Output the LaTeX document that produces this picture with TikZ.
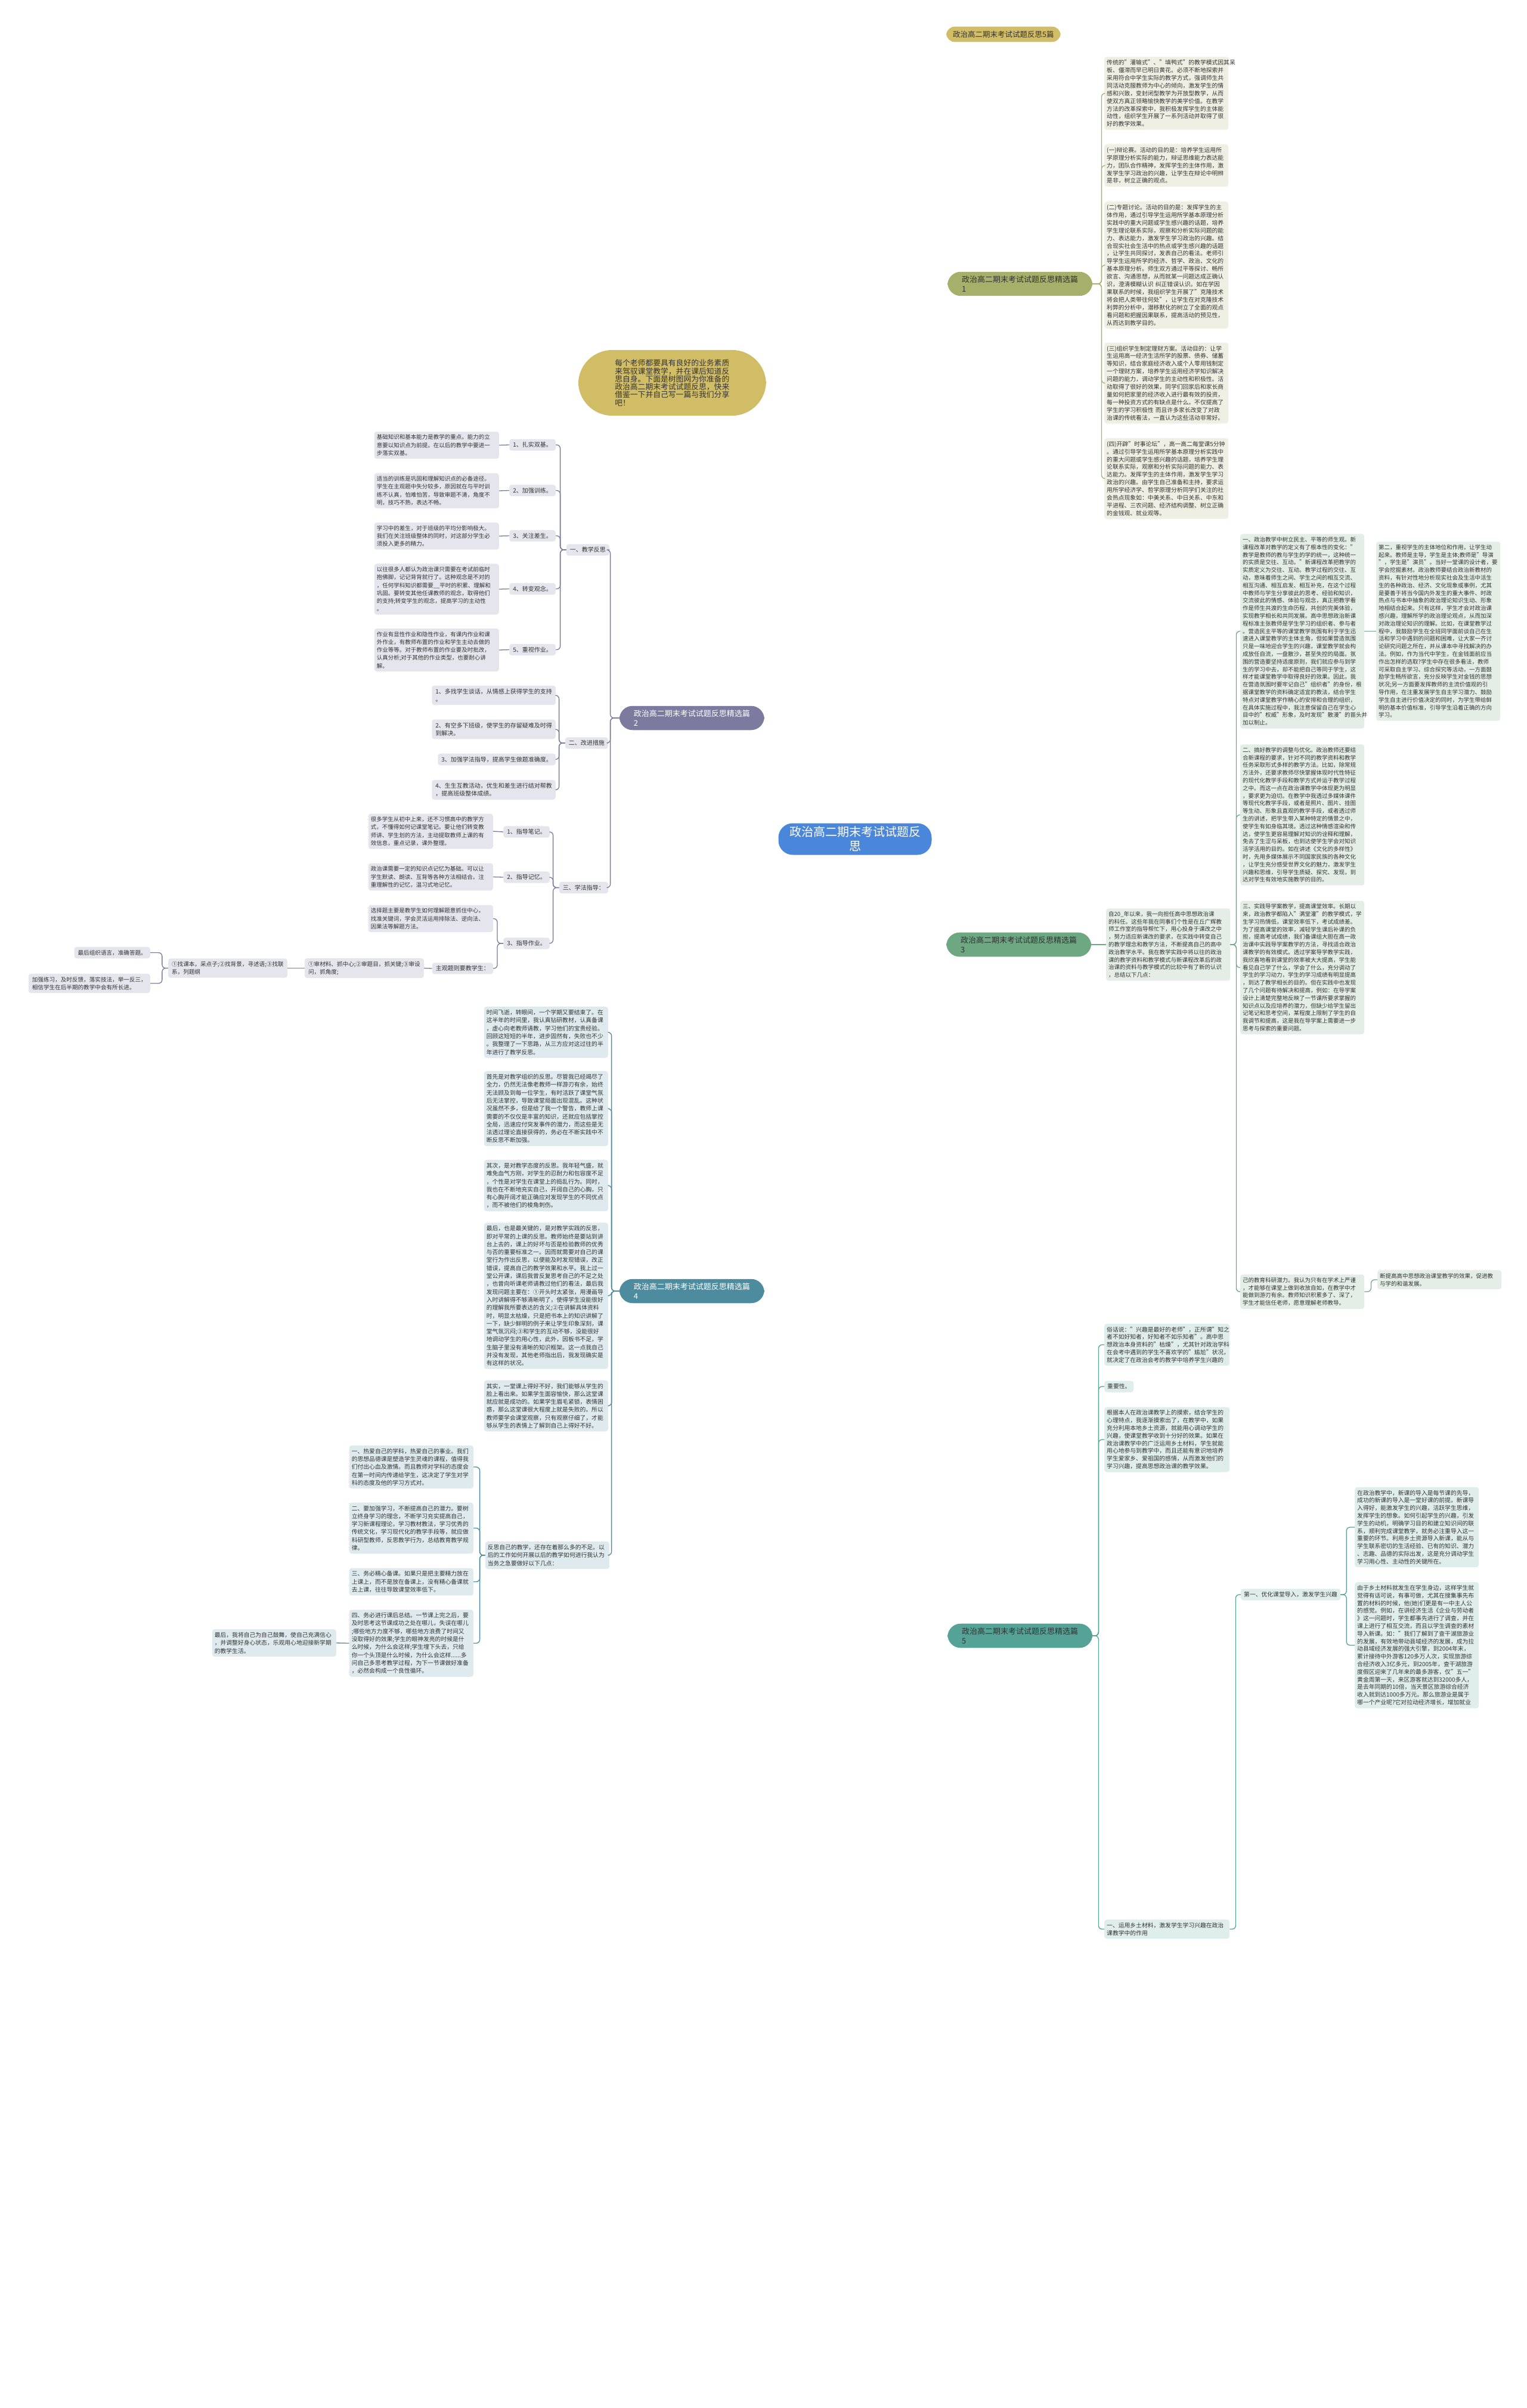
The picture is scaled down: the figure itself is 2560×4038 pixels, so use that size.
\documentclass[tikz,border=0pt]{standalone}
\usepackage{fontspec}
\setmainfont{Noto Sans CJK SC}
\usetikzlibrary{backgrounds}
\definecolor{txt}{HTML}{333333}
\definecolor{cBlue}{HTML}{4A86D9}
\definecolor{cGold}{HTML}{D2BD67}
\definecolor{cOlive}{HTML}{A7B06A}
\definecolor{bgOlive}{HTML}{EFEFE4}
\definecolor{cPurp}{HTML}{7A7B9E}
\definecolor{bgPurp}{HTML}{E5E5ED}
\definecolor{cGreen}{HTML}{6DA882}
\definecolor{bgGreen}{HTML}{E4EEE7}
\definecolor{cTealB}{HTML}{4D8C9E}
\definecolor{bgTealB}{HTML}{DEEAEE}
\definecolor{cTeal}{HTML}{54A396}
\definecolor{bgTeal}{HTML}{E0EEEB}
\tikzset{
  box/.style={rounded corners=4pt, inner xsep=4pt, inner ysep=5pt, align=left, text=txt},
  tA/.style={box, fill=bgOlive, font=\fontsize{9.8}{12.9}\selectfont, text width=200pt},
  tB/.style={box, fill=bgPurp, font=\fontsize{9.5}{13.3}\selectfont, text width=201pt},
  sB/.style={box, fill=bgPurp, inner xsep=6pt, inner ysep=5pt, font=\fontsize{10}{13.3}\selectfont},
  tC/.style={box, fill=bgGreen, font=\fontsize{9.5}{12.8}\selectfont, text width=200pt},
  tD/.style={box, fill=bgTealB, font=\fontsize{9.8}{13.3}\selectfont, text width=200pt},
  tE/.style={box, fill=bgTeal, font=\fontsize{9.8}{12.8}\selectfont, text width=202pt},
  sE/.style={box, fill=bgTeal, inner xsep=5pt, font=\fontsize{9.8}{12.8}\selectfont},
  br/.style={rounded corners=22pt, inner xsep=24pt, inner ysep=7pt, align=left, font=\fontsize{13}{15.5}\selectfont},
  lA/.style={draw=cOlive, line width=1.3pt, rounded corners=6pt},
  lB/.style={draw=cPurp, line width=1.3pt, rounded corners=6pt},
  lC/.style={draw=cGreen, line width=1.3pt, rounded corners=6pt},
  lD/.style={draw=cTealB, line width=1.3pt, rounded corners=6pt},
  lE/.style={draw=cTeal, line width=1.3pt, rounded corners=6pt}
}
\begin{document}
\begin{tikzpicture}[x=1pt,y=-1pt]
\useasboundingbox (0,0) rectangle (2560,4038);
\fill[white] (0,0) rectangle (2560,4038);

% ---------- centre and main branches ----------
\node[fill=cBlue, text=white, rounded corners=24pt, minimum width=257pt, minimum height=53pt, align=center, font=\fontsize{20}{24}\selectfont, inner sep=2pt] (c) at (1434,1407) {政治高二期末考试试题反\\思};
\node[fill=cGold, text=txt, rounded corners=14pt, inner xsep=11pt, inner ysep=7pt, font=\fontsize{12.5}{14}\selectfont, anchor=west] (top) at (1587,57.5) {政治高二期末考试试题反思5篇};
\node[br, fill=cOlive, text=txt, anchor=west] (b1) at (1589,476) {政治高二期末考试试题反思精选篇\\1};
\node[fill=cGold, text=txt, rounded corners=57pt, align=left, inner ysep=16pt, inner xsep=10pt, minimum width=315pt, font=\fontsize{12.8}{13.3}\selectfont, anchor=east] (bub) at (1285,642) {每个老师都要具有良好的业务素质\\来驾驭课堂教学，并在课后知道反\\思自身。下面是树图网为你准备的\\政治高二期末考试试题反思，快来\\借鉴一下并自己写一篇与我们分享\\吧！};
\node[br, fill=cPurp, text=white, anchor=east] (b2) at (1282,1204) {政治高二期末考试试题反思精选篇\\2};
\node[br, fill=cGreen, text=txt, anchor=west] (b3) at (1587,1584) {政治高二期末考试试题反思精选篇\\3};
\node[br, fill=cTealB, text=white, anchor=east] (b4) at (1282,2165) {政治高二期末考试试题反思精选篇\\4};
\node[br, fill=cTeal, text=txt, anchor=west] (b5) at (1589,2743) {政治高二期末考试试题反思精选篇\\5};

\begin{pgfonlayer}{background}
\draw[cGold, line width=1.6pt] (1434,1407) .. controls (1488,394) and (1518,57.5) .. (top.west);
\draw[cOlive, line width=1.6pt] (1434,1407) .. controls (1488,709) and (1519,476) .. (b1.west);
\draw[cGreen, line width=1.6pt] (1434,1407) .. controls (1487,1540) and (1518,1584) .. (b3.west);
\draw[cTeal, line width=1.6pt] (1434,1407) .. controls (1488,2409) and (1519,2743) .. (b5.west);
\draw[cGold, line width=1.6pt] (1434,1407) .. controls (1382,833) and (1352,642) .. (bub.east);
\draw[cPurp, line width=1.6pt] (1434,1407) .. controls (1381,1255) and (1350,1204) .. (b2.east);
\draw[cTealB, line width=1.6pt] (1434,1407) .. controls (1381,1975) and (1350,2165) .. (b4.east);
\end{pgfonlayer}

% ---------- branch 1 ----------
\node[tA, anchor=west] (t1a) at (1852,156.5) {传统的"灌输式"、"填鸭式"的教学模式因其呆\\板、僵滞而早已明日黄花。必须不断地探索并\\采用符合中学生实际的教学方式，强调师生共\\同活动克服教师为中心的倾向，激发学生的情\\感和兴致，变封闭型教学为开放型教学，从而\\使双方真正领略愉快教学的美学价值。在教学\\方法的改革探索中，我积极发挥学生的主体能\\动性，组织学生开展了一系列活动并取得了很\\好的教学效果。};
\node[tA, anchor=west] (t1b) at (1852,277.5) {(一)辩论赛。活动的目的是：培养学生运用所\\学原理分析实际的能力，辩证思维能力表达能\\力，团队合作精神，发挥学生的主体作用，激\\发学生学习政治的兴趣，让学生在辩论中明辨\\是非，树立正确的观点。};
\node[tA, anchor=west] (t1c) at (1852,444.5) {(二)专题讨论。活动的目的是：发挥学生的主\\体作用，通过引导学生运用所学基本原理分析\\实践中的重大问题或学生感兴趣的话题，培养\\学生理论联系实际，观察和分析实际问题的能\\力、表达能力，激发学生学习政治的兴趣。结\\合现实社会生活中的热点或学生感兴趣的话题\\，让学生共同探讨，发表自己的看法。老师引\\导学生运用所学的经济、哲学、政治、文化的\\基本原理分析。师生双方通过平等探讨、畅所\\欲言、沟通思想，从而就某一问题达成正确认\\识，澄清模糊认识~纠正错误认识。如在学因\\果联系的时候，我组织学生开展了"克隆技术\\将会把人类带往何处"，让学生在对克隆技术\\利弊的分析中，潜移默化的树立了全面的观点\\看问题和把握因果联系，提高活动的预见性，\\从而达到教学目的。};
\node[tA, anchor=west] (t1d) at (1852,642.5) {(三)组织学生制定理财方案。活动目的：让学\\生运用高一经济生活所学的股票、债券、储蓄\\等知识，结合家庭经济收入或个人零用钱制定\\一个理财方案，培养学生运用经济学知识解决\\问题的能力，调动学生的主动性和积极性。活\\动取得了很好的效果，同学们回家后和家长商\\量如何把家里的经济收入进行最有效的投资，\\每一种投资方式的有缺点是什么。不仅提高了\\学生的学习积极性~而且许多家长改变了对政\\治课的传统看法，一直认为这些活动非常好。};
\node[tA, anchor=west] (t1e) at (1852,802.5) {(四)开辟"时事论坛"，高一高二每堂课5分钟\\。通过引导学生运用所学基本原理分析实践中\\的重大问题或学生感兴趣的话题，培养学生理\\论联系实际，观察和分析实际问题的能力、表\\达能力。发挥学生的主体作用，激发学生学习\\政治的兴趣。由学生自己准备和主持，要求运\\用所学经济学、哲学原理分析同学们关注的社\\会热点现象如：中美关系、中日关系、中东和\\平进程、三农问题、经济结构调整、树立正确\\的金钱观、就业观等。};
\foreach \n in {t1a,t1b,t1c,t1d,t1e} \draw[lA] (b1.east) -- ++(15,0) |- (\n.west);

% ---------- branch 2 ----------
\node[sB, anchor=east] (k1) at (1022,922) {一、教学反思};
\node[sB, anchor=east] (k2) at (1020,1246) {二、改进措施};
\node[sB, anchor=east] (k3) at (1020,1488.5) {三、学法指导：};
\foreach \n in {k1,k2,k3} \draw[lB] (b2.west) -- ++(-15,0) |- (\n.east);

\node[sB, anchor=east] (k1s1) at (932,746) {1、扎实双基。};
\node[sB, anchor=east] (k1s2) at (932,822.5) {2、加强训练。};
\node[sB, anchor=east] (k1s3) at (932,898.5) {3、关注差生。};
\node[sB, anchor=east] (k1s4) at (932,987.5) {4、转变观念。};
\node[sB, anchor=east] (k1s5) at (932,1089.5) {5、重视作业。};
\node[tB, anchor=east] (k1t1) at (837,746.5) {基础知识和基本能力是教学的重点。能力的立\\意要以知识点为前提。在以后的教学中要进一\\步落实双基。};
\node[tB, anchor=east] (k1t2) at (837,823) {适当的训练是巩固和理解知识点的必备途径。\\学生在主观题中失分较多，原因就在与平时训\\练不认真，怕难怕苦，导致审题不清，角度不\\明，技巧不熟，表达不畅。};
\node[tB, anchor=east] (k1t3) at (837,899) {学习中的差生，对于班级的平均分影响极大。\\我们在关注班级整体的同时，对这部分学生必\\须投入更多的精力。};
\node[tB, anchor=east] (k1t4) at (837,988) {以往很多人都认为政治课只需要在考试前临时\\抱佛脚，记记背背就行了。这种观念是不对的\\，任何学科知识都需要\_\_平时的积累、理解和\\巩固。要转变其他任课教师的观念，取得他们\\的支持;转变学生的观念，提高学习的主动性\\。};
\node[tB, anchor=east] (k1t5) at (837,1090) {作业有显性作业和隐性作业，有课内作业和课\\外作业，有教师布置的作业和学生主动去做的\\作业等等。对于教师布置的作业要及时批改，\\认真分析;对于其他的作业类型，也要耐心讲\\解。};
\foreach \i in {1,...,5} {
  \draw[lB] (k1.west) -- ++(-10,0) |- (k1s\i.east);
  \draw[lB] (k1s\i.west) -- (k1t\i.east);
}

\node[sB, anchor=east] (k2s1) at (932,1166) {1、多找学生谈话，从情感上获得学生的支持\\。};
\node[sB, anchor=east] (k2s2) at (932,1223) {2、有空多下班级，使学生的存留疑难及时得\\到解决。};
\node[sB, anchor=east] (k2s3) at (932,1273.5) {3、加强学法指导，提高学生做题准确度。};
\node[sB, anchor=east] (k2s4) at (932,1324.5) {4、生生互教活动，优生和差生进行结对帮教\\，提高班级整体成绩。};
\foreach \i in {1,...,4} \draw[lB] (k2.west) -- ++(-10,0) |- (k2s\i.east);

\node[sB, anchor=east] (k3s1) at (922,1395) {1、指导笔记。};
\node[sB, anchor=east] (k3s2) at (922,1471) {2、指导记忆。};
\node[sB, anchor=east] (k3s3) at (922,1582) {3、指导作业。};
\foreach \i in {1,2,3} \draw[lB] (k3.west) -- ++(-10,0) |- (k3s\i.east);
\node[tB, anchor=east] (k3t1) at (827,1394) {很多学生从初中上来，还不习惯高中的教学方\\式，不懂得如何记课堂笔记。要让他们转变教\\师讲、学生划的方法，主动提取教师上课的有\\效信息，重点记录，课外整理。};
\node[tB, anchor=east] (k3t2) at (827,1470.5) {政治课需要一定的知识点记忆为基础。可以让\\学生默读、朗读、互背等各种方法相结合。注\\重理解性的记忆，温习式地记忆。};
\draw[lB] (k3s1.west) -- (k3t1.east);
\draw[lB] (k3s2.west) -- (k3t2.east);
\node[tB, anchor=east] (k3c1) at (827,1540.5) {选择题主要是教学生如何理解题意抓住中心，\\找准关键词，学会灵活运用排除法、逆向法、\\因果法等解题方法。};
\node[sB, anchor=east] (k3c2) at (827,1624) {主观题则要教学生：};
\draw[lB] (k3s3.west) -- ++(-10,0) |- (k3c1.east);
\draw[lB] (k3s3.west) -- ++(-10,0) |- (k3c2.east);
\node[sB, anchor=east, font=\fontsize{9.6}{13.3}\selectfont] (k3d) at (711,1623.5) {①审材料、抓中心;②审题目，抓关键;③审设\\问，抓角度;};
\node[sB, anchor=east, font=\fontsize{9.6}{13.3}\selectfont] (k3e) at (482,1623.5) {①找课本，采点子;②找背景，寻述语;③找联\\系，列题纲};
\draw[lB] (k3c2.west) -- (k3d.east);
\draw[lB] (k3d.west) -- (k3e.east);
\node[sB, anchor=east, font=\fontsize{9.6}{13.3}\selectfont] (k3f1) at (252,1597.5) {最后组织语言，准确答题。};
\node[sB, anchor=east, font=\fontsize{9.6}{13.3}\selectfont] (k3f2) at (252,1649) {加强练习，及时反馈，落实技法，举一反三，\\相信学生在后半期的教学中会有所长进。};
\draw[lB] (k3e.west) -- ++(-10,0) |- (k3f1.east);
\draw[lB] (k3e.west) -- ++(-10,0) |- (k3f2.east);

% ---------- branch 3 ----------
\node[tC, anchor=west] (p0) at (1855,1584) {自20\_年以来，我一向担任高中思想政治课\\的科任。这些年我在同事们个性是在丘广辉教\\师工作室的指导帮忙下，用心投身于课改之中\\，努力适应新课改的要求，在实践中转变自己\\的教学理念和教学方法，不断提高自己的高中\\政治教学水平。我在教学实践中将以往的政治\\课的教学资料和教学模式与新课程改革后的政\\治课的资料与教学模式的比较中有了新的认识\\，总结以下几点：};
\draw[lC] (b3.east) -- (p0.west);
\node[tC, anchor=west] (p1) at (2080,1058.5) {一、政治教学中树立民主、平等的师生观。新\\课程改革对教学的定义有了根本性的变化："\\教学是教师的教与学生的学的统一，这种统一\\的实质是交往、互动。"新课程改革把教学的\\实质定义为交往、互动。教学过程的交往、互\\动，意味着师生之间、学生之间的相互交流、\\相互沟通、相互启发、相互补充，在这个过程\\中教师与学生分享彼此的思考、经验和知识，\\交流彼此的情感、体验与观念，真正把教学看\\作是师生共渡的生命历程，共创的完美体验，\\实现教学相长和共同发展。高中思想政治新课\\程标准主张教师是学生学习的组织者、参与者\\。营造民主平等的课堂教学氛围有利于学生迅\\速进入课堂教学的主体主角，但如果营造氛围\\只是一味地迎合学生的兴趣，课堂教学就会构\\成放任自流，一盘散沙，甚至失控的局面。氛\\围的营造要坚持适度原则，我们就应参与到学\\生的学习中去，却不能把自己等同于学生，这\\样才能课堂教学中取得良好的效果。因此，我\\在营造氛围时要牢记自己"组织者"的身份，根\\据课堂教学的资料确定适宜的教法，结合学生\\特点对课堂教学作精心的安排和合理的组织，\\在具体实施过程中，我注意保留自己在学生心\\目中的"权威"形象，及时发现"散漫"的苗头并\\加以制止。};
\node[tC, anchor=west] (p1b) at (2308,1058.5) {第二，重视学生的主体地位和作用，让学生动\\起来。教师是主导，学生是主体;教师是"导演\\"，学生是"演员"。当好一堂课的设计者，要\\学会挖掘素材。政治教师要结合政治新教材的\\资料，有针对性地分析现实社会及生活中活生\\生的各种政治、经济、文化现象或事例，尤其\\是要善于将当今国内外发生的重大事件、时政\\热点与书本中抽象的政治理论知识生动、形象\\地相结合起来。只有这样，学生才会对政治课\\感兴趣，理解所学的政治理论观点，从而加深\\对政治理论知识的理解。比如，在课堂教学过\\程中，我鼓励学生在全班同学面前谈自己在生\\活和学习中遇到的问题和困难，让大家一齐讨\\论研究问题之所在，并从课本中寻找解决的办\\法。例如，作为当代中学生，在金钱面前应当\\作出怎样的选取?学生中存在很多看法，教师\\可采取自主学习、综合探究等活动，一方面鼓\\励学生畅所欲言，充分反映学生对金钱的思想\\状况;另一方面要发挥教师的主流价值观的引\\导作用，在注重发展学生自主学习潜力、鼓励\\学生自主进行价值决定的同时，为学生带给鲜\\明的基本价值标准，引导学生沿着正确的方向\\学习。};
\draw[lC] (p1.east) -- (p1b.west);
\node[tC, anchor=west] (p2) at (2080,1366.5) {二、搞好教学的调整与优化。政治教师还要结\\合新课程的要求，针对不同的教学资料和教学\\任务采取形式多样的教学方法。比如，除常规\\方法外，还要求教师尽快掌握体现时代性特征\\的现代化教学手段和教学方式并运于教学过程\\之中。而这一点在政治课教学中体现更为明显\\，要求更为迫切。在教学中我透过多媒体课件\\等现代化教学手段，或者是照片、图片、挂图\\等生动、形象且直观的教学手段，或者透过师\\生的讲述，把学生带入某种特定的情景之中，\\使学生有如身临其境。透过这种情感渲染和传\\达，使学生更容易理解对知识的诠释和理解，\\免去了生涩与呆板，也到达使学生学会对知识\\活学活用的目的。如在讲述《文化的多样性》\\时，先用多媒体展示不同国家民族的各种文化\\，让学生充分感受世界文化的魅力，激发学生\\兴趣和思维，引导学生质疑、探究、发现，到\\达对学生有效地实施教学的目的。};
\node[tC, anchor=west] (p3) at (2080,1622.5) {三、实践导学案教学，提高课堂效率。长期以\\来，政治教学都陷入"满堂灌"的教学模式，学\\生学习热情低，课堂效率低下，考试成绩差。\\为了提高课堂的效率，减轻学生课后补课的负\\担，提高考试成绩，我们备课组大胆在高一政\\治课中实践导学案教学的方法，寻找适合政治\\课教学的有效模式。透过学案导学教学实践，\\我欣喜地看到课堂的效率被大大提高，学生能\\看见自己学了什么，学会了什么，充分调动了\\学生的学习动力，学生的学习成绩有明显提高\\，到达了教学相长的目的。但在实践中也发现\\了几个问题有待解决和提高，例如：在导学案\\设计上清楚完整地反映了一节课所要求掌握的\\知识点以及应培养的潜力，但缺少给学生留出\\记笔记和思考空间，某程度上限制了学生的自\\我调节和提高，这是我在导学案上需要进一步\\思考与探索的重要问题。};
\node[tC, anchor=west] (p4) at (2080,2166) {己的教育科研潜力。我认为只有在学术上严谨\\，才能够在课堂上做到收放自如，在教学中才\\能做到游刃有余。教师知识积累多了、深了，\\学生才能信任老师，愿意理解老师教导。};
\node[tC, anchor=west] (p5) at (2310,2146) {断提高高中思想政治课堂教学的效果，促进教\\与学的和谐发展。};
\foreach \n in {p1,p2,p3,p4} \draw[lC] (p0.east) -- ++(10,0) |- (\n.west);
\draw[lC] (p4.east) -- ++(11,0) |- (p5.west);

% ---------- branch 4 ----------
\node[tD, anchor=east] (q1) at (1020,1731) {时间飞逝，转眼间，一个学期又要结束了。在\\这半年的时间里，我认真钻研教材，认真备课\\，虚心向老教师请教，学习他们的宝贵经验。\\回顾这短短的半年，进步固然有，失败也不少\\。我整理了一下思路，从三方应对这过往的半\\年进行了教学反思。};
\node[tD, anchor=east] (q2) at (1020,1859) {首先是对教学组织的反思。尽管我已经竭尽了\\全力，仍然无法像老教师一样游刃有余，始终\\无法顾及到每一位学生，有时活跃了课堂气氛\\后无法掌控，导致课堂局面出现混乱。这种状\\况虽然不多，但是给了我一个警告，教师上课\\需要的不仅仅是丰富的知识，还就应包括掌控\\全局，迅速应付突发事件的潜力，而这些是无\\法透过理论直接获得的，务必在不断实践中不\\断反思不断加强。};
\node[tD, anchor=east] (q3) at (1020,1988) {其次，是对教学态度的反思。我年轻气盛，就\\难免血气方刚，对学生的忍耐力和包容度不足\\，个性是对学生在课堂上的捣乱行为。同时，\\我也在不断地充实自己，开阔自己的心胸，只\\有心胸开阔才能正确应对发现学生的不同优点\\，而不被他们的棱角刺伤。};
\node[tD, anchor=east] (q4) at (1020,2173) {最后，也是最关键的，是对教学实践的反思，\\即对平常的上课的反思。教师始终是要站到讲\\台上去的，课上的好坏与否是检验教师的优秀\\与否的重要标准之一。因而就需要对自己的课\\堂行为作出反思，以便能及时发现错误，改正\\错误，提高自己的教学效果和水平。我上过一\\堂公开课，课后我曾反复思考自己的不足之处\\，也曾向听课老师请教过他们的看法，最后我\\发现问题主要在：①开头时太紧张，用漫画导\\入时讲解得不够清晰明了，使得学生没能很好\\的理解我所要表达的含义;②在讲解具体资料\\时，明显太枯燥，只是把书本上的知识讲解了\\一下，缺少鲜明的例子来让学生印象深刻，课\\堂气氛沉闷;③和学生的互动不够，没能很好\\地调动学生的用心性，此外，因板书不足，学\\生脑子里没有清晰的知识框架。这一点我自己\\并没有发现，其他老师指出后，我发现确实是\\有这样的状况。};
\node[tD, anchor=east] (q5) at (1020,2357.5) {其实，一堂课上得好不好，我们能够从学生的\\脸上看出来。如果学生面容愉快，那么这堂课\\就应就是成功的。如果学生眉毛紧锁，表情困\\惑，那么这堂课很大程度上就是失败的。所以\\教师要学会课堂观察，只有观察仔细了，才能\\够从学生的表情上了解到自己上得好不好。};
\node[tD, anchor=east] (q6) at (1022,2608) {反思自己的教学，还存在着那么多的不足。以\\后的工作如何开展以后的教学如何进行我认为\\当务之急要做好以下几点：};
\foreach \n in {q1,q2,q3,q4,q5,q6} \draw[lD] (b4.west) -- ++(-13,0) |- (\n.east);
\node[tD, anchor=east] (q6a) at (794,2460) {一、热爱自己的学科，热爱自己的事业。我们\\的思想品德课是塑造学生灵魂的课程，值得我\\们付出心血及激情。而且教师对学科的态度会\\在第一时间内传递给学生，这决定了学生对学\\科的态度及他的学习方式对。};
\node[tD, anchor=east] (q6b) at (794,2562.5) {二、要加强学习，不断提高自己的潜力。要树\\立终身学习的理念，不断学习充实提高自己，\\学习新课程理论，学习教材教法，学习优秀的\\传统文化，学习现代化的教学手段等，就应做\\科研型教师，反思教学行为，总结教育教学规\\律。};
\node[tD, anchor=east] (q6c) at (794,2652.5) {三、务必精心备课。如果只是把主要精力放在\\上课上，而不是放在备课上，没有精心备课就\\去上课，往往导致课堂效率低下。};
\node[tD, anchor=east] (q6d) at (794,2755.5) {四、务必进行课后总结。一节课上完之后，要\\及时思考这节课成功之处在哪儿，失误在哪儿\\;哪些地方力度不够，哪些地方浪费了时间又\\没取得好的效果;学生的眼神发亮的时候是什\\么时候，为什么会这样;学生埋下头去，只给\\你一个头顶是什么时候，为什么会这样......多\\问自己多思考教学过程，为下一节课做好准备\\，必然会构成一个良性循环。};
\foreach \n in {q6a,q6b,q6c,q6d} \draw[lD] (q6.west) -- ++(-9,0) |- (\n.east);
\node[tD, anchor=east] (q6e) at (564,2755) {最后，我将自己为自己鼓舞，使自己充满信心\\，并调整好身心状态，乐观用心地迎接新学期\\的教学生活。};
\draw[lD] (q6d.west) -- (q6e.east);

% ---------- branch 5 ----------
\node[tE, anchor=west] (r1) at (1852,2255) {俗话说："兴趣是最好的老师"，正所谓"知之\\者不如好知者，好知者不如乐知者"。高中思\\想政治本身资料的"枯燥"，尤其针对政治学科\\在会考中遇到的学生不喜欢学的"尴尬"状况，\\就决定了在政治会考的教学中培养学生兴趣的};
\node[sE, anchor=west] (r2) at (1852,2325) {重要性。};
\node[tE, anchor=west] (r3) at (1852,2414) {根据本人在政治课教学上的摸索，结合学生的\\心理特点，我逐渐摸索出了，在教学中，如果\\充分利用本地乡土资源，就能用心调动学生的\\兴趣，使课堂教学收到十分好的效果。如果在\\政治课教学中的广泛运用乡土材料，学生就能\\用心地参与到教学中，而且还能有意识地培养\\学生爱家乡、爱祖国的感情，从而激发他们的\\学习兴趣，提高思想政治课的教学效果。};
\node[tE, anchor=west] (r4) at (1852,3235) {一、运用乡土材料，激发学生学习兴趣在政治\\课教学中的作用};
\foreach \n in {r1,r2,r3,r4} \draw[lE] (b5.east) -- ++(10,0) |- (\n.west);
\node[sE, anchor=west] (r41) at (2081,2674) {第一、优化课堂导入，激发学生兴趣};
\draw[lE] (r4.east) -- ++(10,0) |- (r41.west);
\node[tE, anchor=west, text width=200pt] (r41a) at (2272,2561) {在政治教学中，新课的导入是每节课的先导，\\成功的新课的导入是一堂好课的前提。新课导\\入得好，能激发学生的兴趣，活跃学生思维，\\发挥学生的想象。如何引起学生的兴趣，引发\\学生的动机，明确学习目的和建立知识间的联\\系，顺利完成课堂教学，就务必注重导入这一\\重要的环节。利用乡土资源导入新课，能从与\\学生联系密切的生活经验、已有的知识、潜力\\、志趣、品德的实际出发，这是充分调动学生\\学习用心性、主动性的关键所在。};
\node[tE, anchor=north west, text width=200pt] (r41b) at (2272,2653) {由于乡土材料就发生在学生身边，这样学生就\\觉得有话可说，有事可做，尤其在搜集事先布\\置的材料的时候，他(她)们更是有一中主人公\\的感觉。例如，在讲经济生活《企业与劳动者\\》这一问题时，学生都事先进行了调查，并在\\课上进行了相互交流，而且以学生调查的素材\\导入新课。如："我们了解到了查干湖旅游业\\的发展，有效地带动县域经济的发展，成为拉\\动县域经济发展的强大引擎，到2004年末，\\累计接待中外游客120多万人次，实现旅游综\\合经济收入3亿多元，到2005年，查干湖旅游\\度假区迎来了几年来的最多游客，仅"五一"\\黄金周第一天，来区游客就达到32000多人，\\是去年同期的10倍，当天景区旅游综合经济\\收入就到达1000多万元。那么旅游业是属于\\哪一个产业呢?它对拉动经济增长，增加就业};
\draw[lE] (r41.east) -- ++(10,0) |- (r41a.west);
\draw[lE] (r41.east) -- ++(10,0) |- (r41b.west);
\end{tikzpicture}
\end{document}
